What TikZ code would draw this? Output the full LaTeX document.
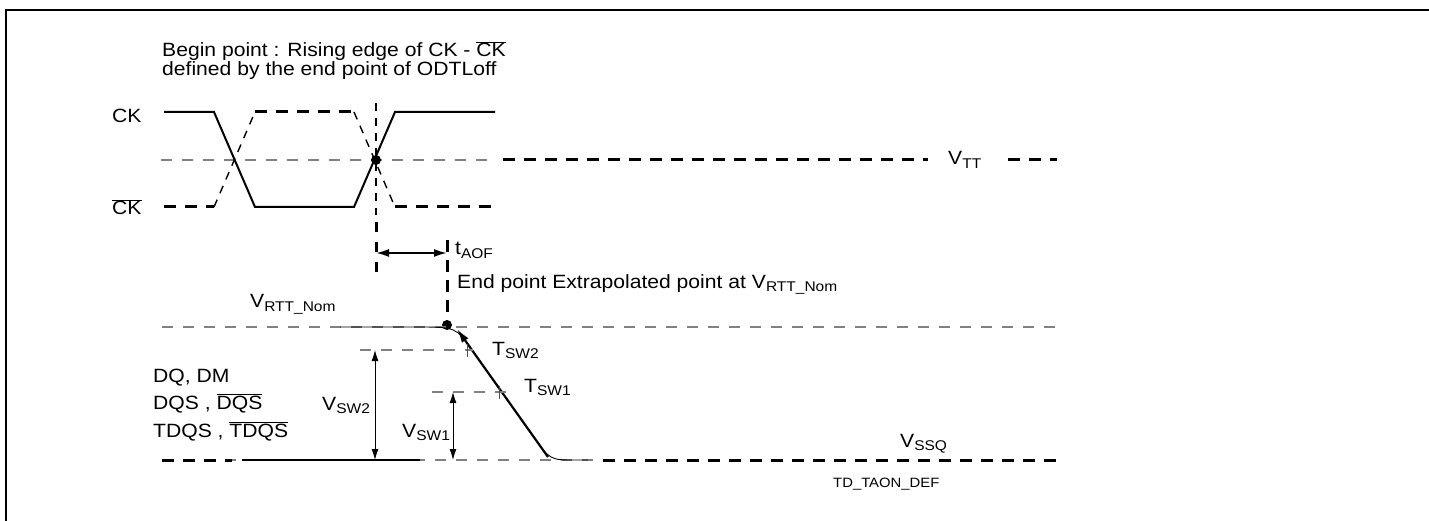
\documentclass[tikz,border=0pt]{standalone}
\usepackage{fontspec}
\setmainfont[FakeStretch=1.1]{Liberation Sans}
\usetikzlibrary{arrows.meta}
\newcommand\sbs[1]{\raisebox{-3.5pt}{\fontsize{14.1}{14.1}\selectfont #1}}
\newcommand\ovl[1]{\mbox{$\overline{\mbox{#1}}$}}
\begin{document}
\begin{tikzpicture}[x=1pt,y=-1pt,
  every node/.style={font=\fontsize{19.2}{21}\selectfont, inner sep=0pt, anchor=base west},
  sig/.style={line width=2pt, line join=miter},
  thickdash/.style={line width=3pt, dash pattern=on 12pt off 9pt},
  thindash/.style={line width=1.4pt, dash pattern=on 8pt off 7pt},
  graydash/.style={gray, line width=1.3pt, dash pattern=on 11pt off 10pt},
  dimarrow/.style={line width=0.9pt, {Latex[length=11pt,width=7pt]}-{Latex[length=11pt,width=7pt]}},
  tick/.style={line width=0.9pt, gray!60!black},
  dot/.style={circle, fill=black, minimum size=10pt, inner sep=0pt, anchor=center}]
\useasboundingbox (0,0) rectangle (1429,521);
% frame
\draw[line width=1.5pt] (1429,10) -- (6,10) -- (6,521);

% title
\node (t1) at (162,57) {Begin point : Rising edge of CK - \ovl{CK}};
\node (t2) at (162,76) {defined by the end point of ODTLoff};

% CK labels
\node (ck) at (112,123) {CK};
\node (ckb) at (112,215) {\ovl{CK}};

% reference levels
\draw[graydash] (161,160) -- (495,160);
\draw[thickdash] (503,160) -- (928,160);
\node (vtt) at (948,165) {V\sbs{TT}};
\draw[thickdash] (1008,160) -- (1057,160);

% CK (solid)
\draw[sig] (164,112) -- (214,112) -- (255,207) -- (354,207) -- (395,112) -- (495,112);
% CK bar (dashed)
\draw[thickdash] (164,207) -- (214,207);
\draw[thindash] (214,207) -- (255,112);
\draw[thickdash] (255,112) -- (354,112);
\draw[thindash] (354,112) -- (395,207);
\draw[thickdash] (395,207) -- (495,207);

% begin point vertical
\draw[thindash] (376,103) -- (376,215);
\draw[thickdash, dash pattern=on 10pt off 10pt] (376,222) -- (376,275);
\node[dot] (bp) at (376,160) {};

% tAOF
\coordinate (a1) at (376,253);
\coordinate (a2) at (447,253);
\draw[line width=1.8pt, {Latex[length=13pt,width=8pt]}-{Latex[length=13pt,width=8pt]}] (a1) -- (a2);
\draw[thickdash, dash pattern=on 12pt off 8pt] (447,240) -- (447,320);
\node (taof) at (455,255) {t\sbs{AOF}};
\node (endp) at (457,288) {End point Extrapolated point at V\sbs{RTT\_Nom}};
\node[dot] (ep) at (447,325) {};

% VRTT_Nom level
\draw[graydash] (162,327) -- (1057,327);
\node (vrtt) at (250,308) {V\sbs{RTT\_Nom}};

% VSSQ level
\draw[graydash] (162,460) -- (600,460);
\draw[thickdash] (162,460) -- (232,460);
\draw[sig] (242,460) -- (420,460);
\draw[thickdash] (603,460) -- (1057,460);
\node (vssq) at (900,447) {V\sbs{SSQ}};

% DQ signal (thin curve)
\draw[line width=0.9pt] (340,327) -- (415,327) .. controls (456,327) .. (472,350) -- (532,435) .. controls (550,460) .. (575,460) -- (588,460);
\draw[line width=2.2pt, -{Latex[length=14pt,width=8pt]}] (548,457) -- (457,329);

% switching levels
\draw[graydash] (360,350) -- (473,350);
\draw[graydash] (432,392) -- (507,392);
\draw[tick] (467,344) -- (467,357);
\draw[tick] (499,386) -- (499,399);
\node (tsw2) at (492,355) {T\sbs{SW2}};
\node (tsw1) at (524,392) {T\sbs{SW1}};

\coordinate (s2t) at (375,350);
\coordinate (s2b) at (375,460);
\draw[dimarrow] (s2t) -- (s2b);
\coordinate (s1t) at (453,392);
\coordinate (s1b) at (453,460);
\draw[dimarrow] (s1t) -- (s1b);
\node (vsw2) at (322,410) {V\sbs{SW2}};
\node (vsw1) at (402,437) {V\sbs{SW1}};

% DQ labels
\node (dq1) at (153,382) {DQ, DM};
\node (dq2) at (153,409) {DQS , \ovl{DQS}};
\node (dq3) at (153,437) {TDQS , \ovl{TDQS}};

\node[font=\fontsize{13.5}{16}\selectfont] (td) at (833,487) {TD\_TAON\_DEF};
\end{tikzpicture}
\end{document}
